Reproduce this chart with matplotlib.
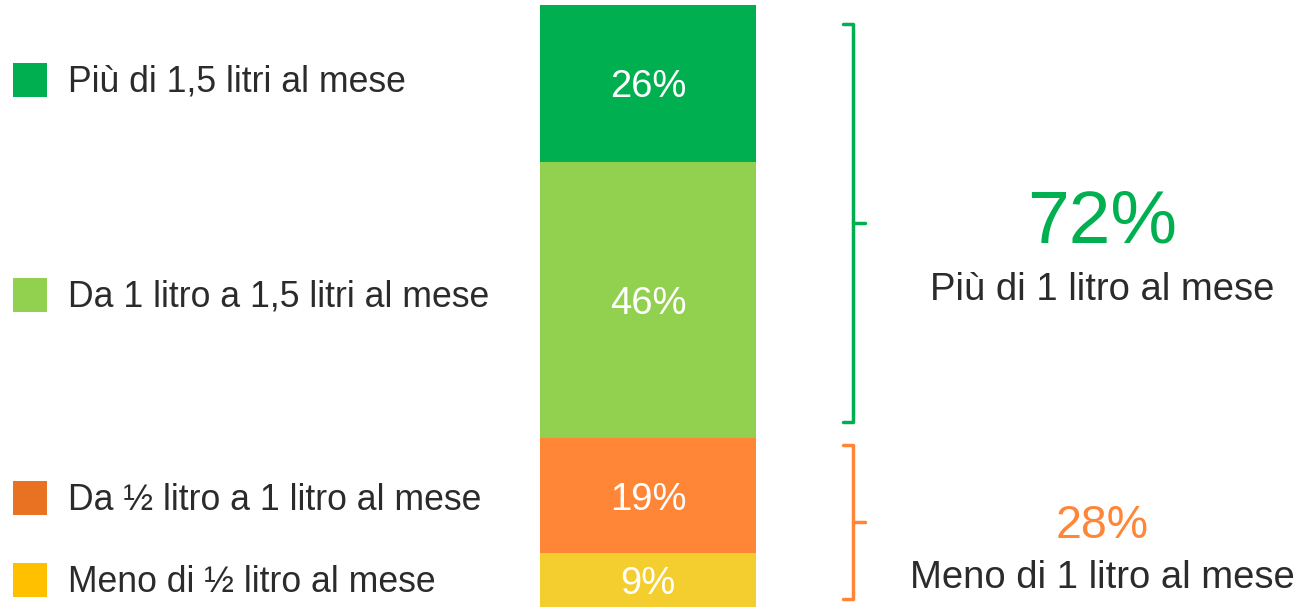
import matplotlib.pyplot as plt

# dati
categories = ["Meno di ½ litro al mese", "Da ½ litro a 1 litro al mese",
              "Da 1 litro a 1,5 litri al mese", "Più di 1,5 litri al mese"]
values = [9, 19, 46, 26]
bar_colors = ["#F4CD2F", "#FF8636", "#92D050", "#00B050"]
legend_colors = ["#FFC000", "#E97122", "#92D050", "#00B050"]
legend_y = [582, 500, 297, 82]  # posizione verticale delle etichette (px)

groups = [("72%", "Più di 1 litro al mese", "#00B050"),
          ("28%", "Meno di 1 litro al mese", "#FF8636")]

plt.rcParams["font.family"] = ["Liberation Sans", "DejaVu Sans"]
TXT = "#2b2b2b"

W, H = 1305, 607
fig = plt.figure(figsize=(W / 100, H / 100), dpi=100)

# asse "pixel" per legenda, parentesi e testi
ax = fig.add_axes([0, 0, 1, 1])
ax.set_xlim(0, W)
ax.set_ylim(H, 0)
ax.axis("off")

# barra impilata
bx = fig.add_axes([540 / W, 0, 216 / W, 602 / H])
bottom = 0
for v, c in zip(values, bar_colors):
    bx.bar(0, v, bottom=bottom, width=1, color=c)
    bx.text(0, bottom + v / 2 - 0.7, f"{v}%", ha="center", va="center",
            color="white", fontsize=27.5)
    bottom += v
bx.set_xlim(-0.5, 0.5)
bx.set_ylim(0, 100)
bx.axis("off")

# legenda
for lab, c, y in zip(categories, legend_colors, legend_y):
    ax.add_patch(plt.Rectangle((13, y - 19), 34, 34, color=c, lw=0))
    ax.text(68, y, lab, ha="left", va="center", fontsize=25.7, color=TXT)

# parentesi graffe
def bracket(y0, y1, color):
    ym = (y0 + y1) / 2
    ax.plot([843, 853, 853, 843], [y0, y0, y1, y1], color=color, lw=2.5,
            solid_joinstyle="round", solid_capstyle="round")
    ax.plot([853, 865], [ym, ym], color=color, lw=2.5, solid_capstyle="round")

bracket(24, 422, groups[0][2])
bracket(445, 599, groups[1][2])

# totali
ax.text(1102, 223, groups[0][0], ha="center", va="center", fontsize=54,
        color=groups[0][2])
ax.text(1102, 290, groups[0][1], ha="center", va="center", fontsize=27.5,
        color=TXT)
ax.text(1102, 526, groups[1][0], ha="center", va="center", fontsize=33.5,
        color=groups[1][2])
ax.text(1102, 578, groups[1][1], ha="center", va="center", fontsize=27.5,
        color=TXT)

fig.savefig("out.png", dpi=100)
